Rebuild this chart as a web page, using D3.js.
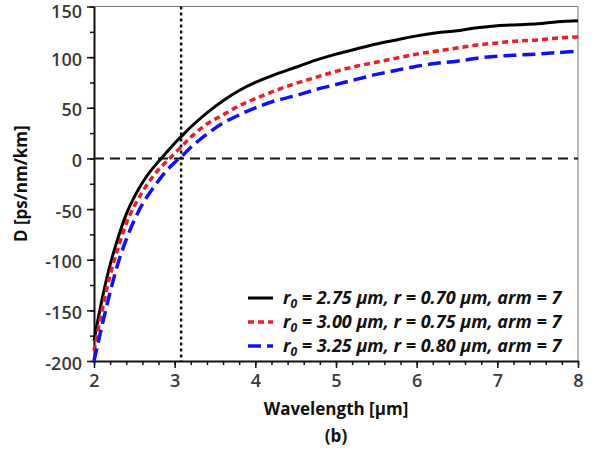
<!DOCTYPE html>
<html>
<head>
<meta charset="utf-8">
<script src="https://cdn.jsdelivr.net/npm/d3@7"></script>
<style>
  body { margin: 0; background: #fff; }
  text { font-family: "Open Sans", "DejaVu Sans", sans-serif; }
</style>
</head>
<body>
<div id="chart"></div>
<script>
// Wavelength samples (µm)
const wavelength = [2.0, 2.1, 2.2, 2.3, 2.4, 2.5, 2.6, 2.7, 2.8, 2.9, 3.0, 3.1, 3.2, 3.4, 3.6, 3.8, 4.0,
  4.25, 4.5, 4.75, 5.0, 5.25, 5.5, 5.75, 6.0, 6.25, 6.5, 6.75, 7.0, 7.25, 7.5, 7.75, 8.0];
// Dispersion D [ps/nm/km] for each design
const dBlack = [-180, -139, -105, -78, -55, -38, -24, -12.5, -3, 6, 15, 23, 31, 45, 57, 67, 75,
  83, 90, 97, 103, 108, 113, 117, 121, 124, 126, 129, 131, 132, 133, 135, 136];
const dRed = [-190, -150, -115, -88, -64, -47, -33, -21, -11, -3, 5, 13, 21, 34, 43, 52, 59,
  67, 74, 80, 86, 91, 95, 99, 103, 106, 109, 112, 114, 116, 117, 119, 120];
const dBlue = [-200, -165, -132, -103, -80, -61, -45, -33, -22, -12, -4, 3, 11, 24, 35, 43, 50,
  57, 62, 68, 73, 78, 83, 87, 91, 94, 96, 99, 101, 102, 103, 104.5, 106];

const seriesLabels = [
  ["2.75", "0.70", "7"],
  ["3.00", "0.75", "7"],
  ["3.25", "0.80", "7"]
];
const xTicks = [2, 3, 4, 5, 6, 7, 8];
const yTicks = [-200, -150, -100, -50, 0, 50, 100, 150];
const markerWavelength = 3.08;
const zeroLevel = 0;

const W = 597, H = 451;
const margin = { top: 6.5, right: 19, bottom: 90, left: 94 };
const width = W - margin.left - margin.right;
const height = H - margin.top - margin.bottom;

const svg = d3.select("#chart").append("svg")
  .attr("width", W).attr("height", H);
const g = svg.append("g")
  .attr("transform", `translate(${margin.left},${margin.top})`);

const x = d3.scaleLinear().domain([2, 8]).range([0, width]);
const y = d3.scaleLinear().domain([-200, 150]).range([height, 0]);

// plain hyphen minus, like the original
const fmt = d => String(d);

// frame (top / right)
g.append("path")
  .attr("d", `M0,0H${width}V${height}`)
  .attr("fill", "none").attr("stroke", "#777").attr("stroke-width", 1);

// minor ticks
g.append("g").attr("transform", `translate(0,${height})`)
  .call(d3.axisBottom(x).tickValues(d3.range(2, 8.01, 0.2)).tickSize(4).tickFormat(""))
  .call(a => a.select(".domain").remove())
  .selectAll("line").attr("stroke", "#111").attr("stroke-width", 1.5);
g.append("g")
  .call(d3.axisLeft(y).tickValues(d3.range(-200, 151, 25)).tickSize(4).tickFormat(""))
  .call(a => a.select(".domain").remove())
  .selectAll("line").attr("stroke", "#111").attr("stroke-width", 1.5);

// major axes
const xAxis = g.append("g").attr("transform", `translate(0,${height})`)
  .call(d3.axisBottom(x).tickValues(xTicks).tickFormat(fmt).tickSize(7).tickSizeOuter(0).tickPadding(6));
const yAxis = g.append("g")
  .call(d3.axisLeft(y).tickValues(yTicks).tickFormat(fmt).tickSize(7).tickSizeOuter(0).tickPadding(5));
[xAxis, yAxis].forEach(a => {
  a.select(".domain").attr("stroke", "#111").attr("stroke-width", 2);
  a.selectAll(".tick line").attr("stroke", "#111").attr("stroke-width", 1.5);
  a.selectAll(".tick text").attr("fill", "#3a3a3a")
    .style("font-size", "18px").style("font-weight", "600")
    .style("font-family", "'Open Sans', sans-serif");
});
yAxis.selectAll(".tick text").attr("dy", d => d === 150 ? "0.62em" : "0.45em");

// reference lines
g.append("line")
  .attr("x1", 0).attr("x2", width).attr("y1", y(zeroLevel)).attr("y2", y(zeroLevel))
  .attr("stroke", "#111").attr("stroke-width", 2).attr("stroke-dasharray", "10,6");
g.append("line")
  .attr("x1", x(markerWavelength)).attr("x2", x(markerWavelength)).attr("y1", 0).attr("y2", height)
  .attr("stroke", "#111").attr("stroke-width", 2.5).attr("stroke-dasharray", "3,3");

const series = [
  { values: dBlack, color: "#000000", dash: null, w: 3 },
  { values: dRed, color: "#ee1c25", dash: "6,4", w: 3.5 },
  { values: dBlue, color: "#1010f0", dash: "13,6", w: 3.5 }
];

const line = d3.line()
  .x(d => x(d[0])).y(d => y(d[1]))
  .curve(d3.curveCatmullRom);

series.forEach(s => {
  g.append("path")
    .datum(wavelength.map((w, i) => [w, s.values[i]]))
    .attr("d", line)
    .attr("fill", "none")
    .attr("stroke", s.color)
    .attr("stroke-width", s.w)
    .attr("stroke-dasharray", s.dash);
});

// legend
const legend = g.append("g").attr("transform", `translate(${248 - margin.left},${298 - margin.top})`);
series.forEach((s, i) => {
  const row = legend.append("g").attr("transform", `translate(0,${i * 24})`);
  row.append("line").attr("x1", 0).attr("x2", 25).attr("y1", 0).attr("y2", 0)
    .attr("stroke", s.color).attr("stroke-width", s.w).attr("stroke-dasharray", s.dash);
  const t = row.append("text").attr("x", 35).attr("y", 6)
    .style("font-size", "18px").style("font-weight", "bold").style("font-style", "italic")
    .attr("fill", "#111");
  const [r0, r, arm] = seriesLabels[i];
  t.append("tspan").text("r");
  t.append("tspan").attr("dy", 4).style("font-size", "12px").text("0");
  t.append("tspan").attr("dy", -4).text(` = ${r0} µm, r = ${r} µm, arm = ${arm}`);
});

// axis titles
svg.append("text")
  .attr("x", margin.left + width / 2).attr("y", 415)
  .attr("text-anchor", "middle")
  .style("font-size", "17px").style("font-weight", "bold").attr("fill", "#111")
  .text("Wavelength [µm]");
svg.append("text")
  .attr("x", margin.left + width / 2).attr("y", 442)
  .attr("text-anchor", "middle")
  .style("font-size", "17px").style("font-weight", "bold").attr("fill", "#111")
  .text("(b)");
svg.append("text")
  .attr("transform", `translate(27,${margin.top + height / 2}) rotate(-90)`)
  .attr("text-anchor", "middle")
  .style("font-size", "17px").style("font-weight", "bold").attr("fill", "#111")
  .text("D [ps/nm/km]");
</script>
</body>
</html>
